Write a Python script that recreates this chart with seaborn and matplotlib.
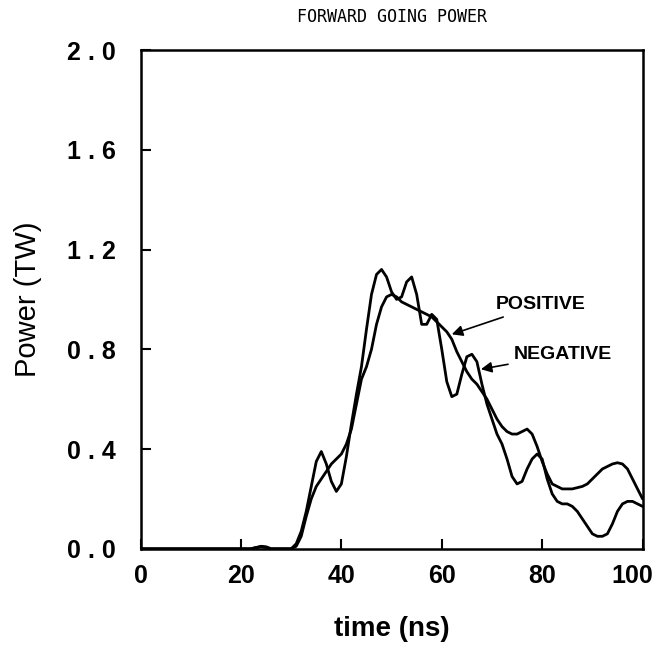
#!/usr/bin/env python3
"""Forward going power, positive vs negative polarity."""

import numpy as np
import pandas as pd
import matplotlib
matplotlib.use('Agg')
import matplotlib.pyplot as plt
import matplotlib.transforms as mtransforms
import seaborn as sns

# time axis (ns) and the two traces
time_ns = [0, 20, 22, 23, 24, 25, 26, 28, 30, 31, 32, 33, 34, 35, 36, 37, 38, 39,
           40, 41, 42, 43, 44, 45, 46, 47, 48, 49, 50, 51, 52, 53, 54, 55, 56, 57,
           58, 59, 60, 61, 62, 63, 64, 65, 66, 67, 68, 69, 70, 71, 72, 73, 74, 75,
           76, 77, 78, 79, 80, 81, 82, 83, 84, 85, 86, 87, 88, 89, 90, 91, 92, 93,
           94, 95, 96, 97, 98, 99, 100]

positive = [0, 0, 0, 0.005, 0.008, 0.005, 0, 0, 0, 0.01, 0.05, 0.13, 0.20, 0.25,
            0.28, 0.31, 0.34, 0.36, 0.38, 0.42, 0.48, 0.58, 0.68, 0.73, 0.80, 0.90,
            0.97, 1.01, 1.02, 1.01, 0.99, 0.98, 0.97, 0.96, 0.95, 0.94, 0.93, 0.91,
            0.89, 0.87, 0.84, 0.79, 0.75, 0.71, 0.68, 0.66, 0.63, 0.60, 0.56, 0.52,
            0.49, 0.47, 0.46, 0.46, 0.47, 0.48, 0.46, 0.41, 0.35, 0.30, 0.26, 0.25,
            0.24, 0.24, 0.24, 0.245, 0.25, 0.26, 0.28, 0.30, 0.32, 0.33, 0.34, 0.345,
            0.34, 0.32, 0.28, 0.24, 0.20]

negative = [0, 0, 0, 0.005, 0.01, 0.008, 0, 0, 0, 0.02, 0.07, 0.15, 0.25, 0.35,
            0.39, 0.34, 0.27, 0.23, 0.26, 0.37, 0.50, 0.62, 0.73, 0.88, 1.02, 1.10,
            1.12, 1.09, 1.03, 1.00, 1.01, 1.07, 1.09, 1.02, 0.90, 0.90, 0.94, 0.92,
            0.80, 0.67, 0.61, 0.62, 0.70, 0.77, 0.78, 0.75, 0.66, 0.58, 0.52, 0.46,
            0.42, 0.36, 0.29, 0.26, 0.27, 0.32, 0.36, 0.38, 0.36, 0.28, 0.22, 0.19,
            0.18, 0.18, 0.17, 0.15, 0.12, 0.09, 0.06, 0.05, 0.05, 0.06, 0.10, 0.15,
            0.18, 0.19, 0.19, 0.18, 0.17]

x_ticks = [0, 20, 40, 60, 80, 100]
y_ticks = [0.0, 0.4, 0.8, 1.2, 1.6, 2.0]

df = pd.DataFrame({
    'time': time_ns * 2,
    'power': positive + negative,
    'polarity': ['POSITIVE'] * len(time_ns) + ['NEGATIVE'] * len(time_ns),
})

sns.set_theme(style='ticks')
plt.rcParams['font.family'] = ['Liberation Sans', 'DejaVu Sans']
plt.rcParams['text.color'] = 'black'
plt.rcParams['axes.labelcolor'] = 'black'
plt.rcParams['xtick.color'] = 'black'
plt.rcParams['ytick.color'] = 'black'

fig = plt.figure(figsize=(6.57, 6.58), dpi=100)
ax = fig.add_axes([0.214, 0.166, 0.764, 0.758])

sns.lineplot(data=df, x='time', y='power', hue='polarity',
             palette={'POSITIVE': 'black', 'NEGATIVE': 'black'},
             linewidth=2.0, legend=False, ax=ax)
for line in ax.lines:
    line.set_solid_joinstyle('round')

ax.set_xlim(0, 100)
ax.set_ylim(0, 2.0)
ax.set_xticks(x_ticks)
ax.set_yticks(y_ticks)
ax.set_xticklabels([str(t) for t in x_ticks], fontsize=18, fontweight='bold')
ax.set_yticklabels([f'{v:.1f}'.replace('.', ' . ') for v in y_ticks],
                   fontsize=18, fontweight='bold')
ax.tick_params(direction='in', length=7, width=1.5)
ax.tick_params(axis='x', pad=11)
ax.tick_params(axis='y', pad=18)

# nudge the "100" label so it stays inside the figure
last = ax.get_xticklabels()[-1]
last.set_transform(last.get_transform() +
                   mtransforms.ScaledTranslation(-10 / 100, 0, fig.dpi_scale_trans))

for side in ['top', 'right', 'bottom', 'left']:
    ax.spines[side].set_visible(True)
    ax.spines[side].set_linewidth(1.8)
    ax.spines[side].set_color('black')

ax.set_xlabel('time (ns)', fontsize=20, fontweight='bold', labelpad=20)
ax.set_ylabel('Power (TW)', fontsize=21, labelpad=18)
ax.set_title('FORWARD GOING POWER', fontsize=12,
             family='DejaVu Sans Mono', pad=20)

# arrow labels
ax.annotate('POSITIVE', xy=(62.0, 0.86), xytext=(70.8, 0.98),
            fontsize=14, fontweight='bold', va='center', ha='left',
            arrowprops=dict(arrowstyle='-|>', color='black', lw=1.2,
                            mutation_scale=16, shrinkA=2, shrinkB=0))
ax.annotate('NEGATIVE', xy=(67.8, 0.72), xytext=(74.4, 0.78),
            fontsize=14, fontweight='bold', va='center', ha='left',
            arrowprops=dict(arrowstyle='-|>', color='black', lw=1.2,
                            mutation_scale=16, shrinkA=2, shrinkB=0))

fig.savefig('out.png', dpi=100)
